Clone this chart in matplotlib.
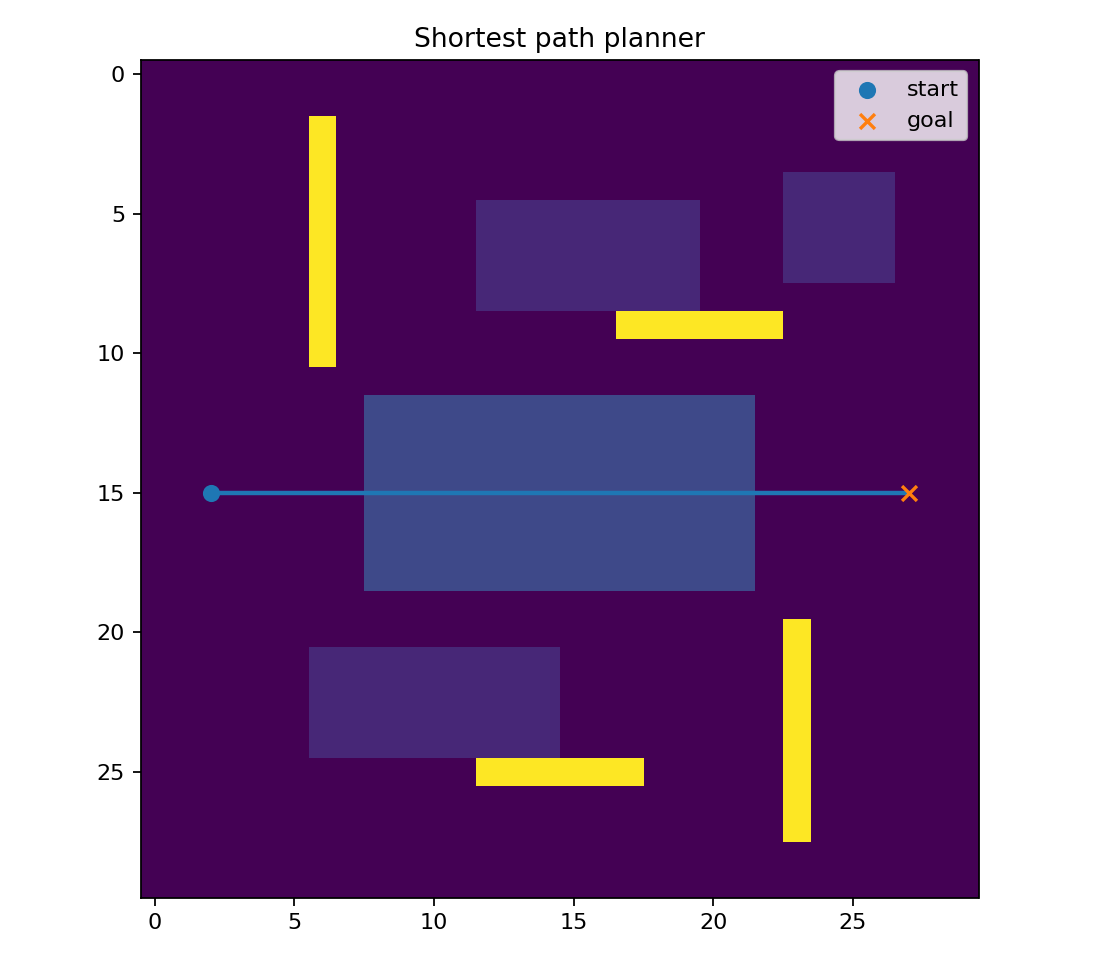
import numpy as np
import matplotlib
matplotlib.use("Agg")
import matplotlib.pyplot as plt

grid_size = 30
# cost regions: (row_start, row_end, col_start, col_end, cost), inclusive
cost_regions = [
    (5, 8, 12, 19, 1),
    (4, 7, 23, 26, 1),
    (12, 18, 8, 21, 2),
    (21, 24, 6, 14, 1),
]
# walls / obstacles: (row_start, row_end, col_start, col_end)
walls = [
    (2, 10, 6, 6),
    (9, 9, 17, 22),
    (20, 27, 23, 23),
    (25, 25, 12, 17),
]
wall_value = 9
start = (2, 15)  # (x, y)
goal = (27, 15)
path_x = [2, 3, 4, 5, 6, 7, 8, 9, 10, 11, 12, 13, 14, 15, 16, 17, 18, 19, 20, 21, 22, 23, 24, 25, 26, 27]
path_y = [15] * len(path_x)

grid = np.zeros((grid_size, grid_size))
for r0, r1, c0, c1, v in cost_regions:
    grid[r0:r1 + 1, c0:c1 + 1] = v
for r0, r1, c0, c1 in walls:
    grid[r0:r1 + 1, c0:c1 + 1] = wall_value

fig = plt.figure(figsize=(7, 6), dpi=160)
ax = fig.add_axes([140.7 / 1120, 62.3 / 960, 837.8 / 1120, 837.7 / 960])
ax.imshow(grid, cmap="viridis", aspect="auto")
ax.plot(path_x, path_y, color="C0", linewidth=2)
ax.scatter([start[0]], [start[1]], color="C0", s=45, marker="o", label="start", zorder=3)
ax.scatter([goal[0]], [goal[1]], color="C1", s=45, marker="x", label="goal", zorder=3)
ax.set_title("Shortest path planner")
ax.legend(loc="upper right")
fig.savefig("out.png", dpi=160)
